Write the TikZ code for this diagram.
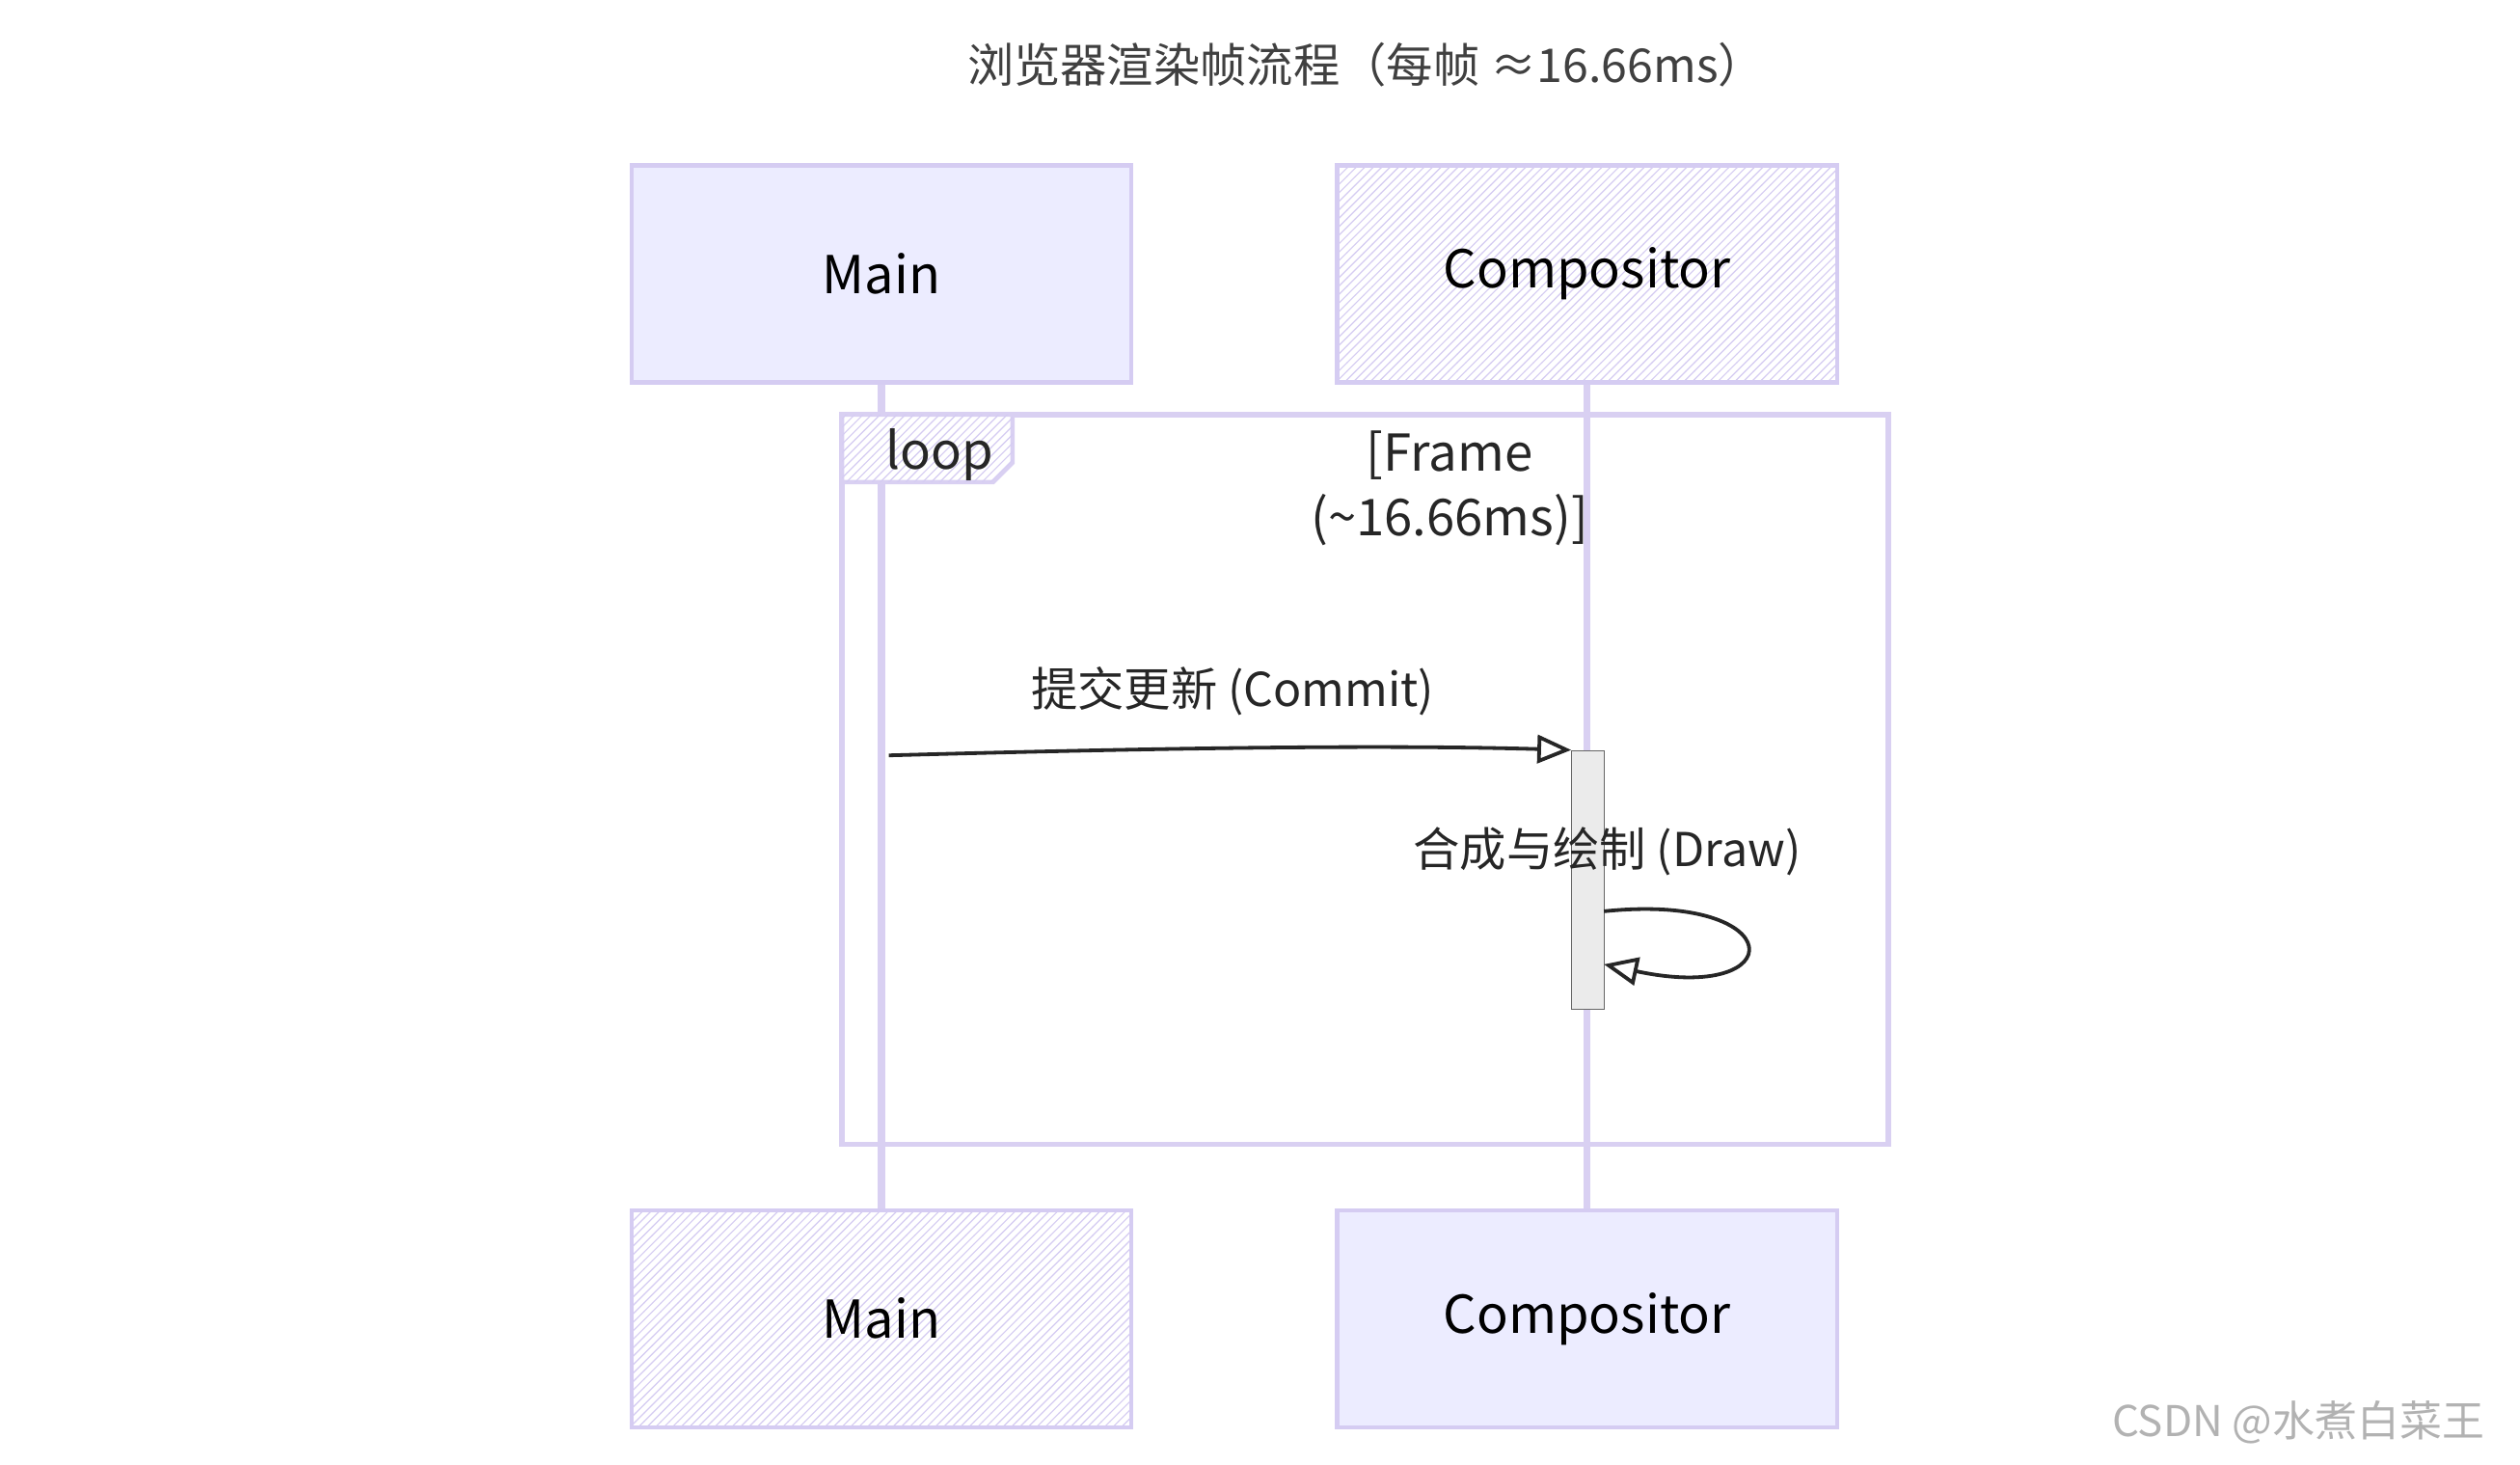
\documentclass[tikz,border=0pt]{standalone}
\usepackage{fontspec}
\setmainfont{Noto Sans CJK SC}
\usetikzlibrary{arrows.meta,patterns}
\definecolor{boxfill}{HTML}{ECECFF}
\definecolor{boxline}{HTML}{D5CCF2}
\definecolor{lifeline}{HTML}{D9D0F2}
\begin{document}
\begin{tikzpicture}[x=0.02cm,y=-0.02cm,
  actor/.style={draw=boxline,line width=1.5pt,fill=boxfill,minimum width=6.22cm,minimum height=2.7cm,font=\fontsize{18.5}{22}\selectfont},
  hatched/.style={fill=white,postaction={pattern=north east lines,pattern color=boxline}},
  life/.style={draw=lifeline,line width=2.5pt},
  lbl/.style={font=\fontsize{16.5}{20}\selectfont,text=black!85}]
\useasboundingbox (0,0) rectangle (1568,911);
\node[lbl,text=black!75] (title) at (850,40) {浏览器渲染帧流程（每帧 ≈16.66ms）};
\node[actor] (mt) at (548.5,170.5) {Main};
\node[actor,hatched] (ct) at (987.5,170.5) {Compositor};
\node[actor,hatched] (mb) at (548.5,820.5) {Main};
\node[actor] (cb) at (987.5,820.5) {Compositor};
\draw[life] (mt.south) -- (mb.north);
\draw[life] (ct.south) -- (cb.north);
\draw[draw=lifeline,line width=2pt] (524,258) rectangle (1175,712);
\draw[draw=lifeline,line width=1.5pt,fill=white,postaction={pattern=north east lines,pattern color=boxline}] (524,258) -- (630,258) -- (630,288) -- (618,300) -- (524,300) -- cycle;
\node[lbl,font=\fontsize{18}{21}\selectfont,anchor=west] (loop) at (545,283) {loop};
\node[lbl,font=\fontsize{18}{23}\selectfont,align=center] (frame) at (902,304) {[Frame\\(\textasciitilde16.66ms)]};
\node[draw=black!60,fill=black!8,minimum width=0.4cm,minimum height=3.22cm,inner sep=0] (act) at (988,547.5) {};
\coordinate (src) at (553,470);
\draw[-{Triangle[open,length=12pt,width=10pt]},line width=1.3pt,black!85] (src) .. controls (700,466) and (850,463) .. (act.north west);
\node[lbl] (commit) at (767,430) {提交更新 (Commit)};
\node[lbl] (draw) at (1000,530) {合成与绘制 (Draw)};
\coordinate (s1) at (998,567);
\coordinate (s2) at (998,600);
\draw[-{Triangle[open,length=12pt,width=10pt]},line width=1.3pt,black!85] (s1) .. controls (1115,555) and (1115,625) .. (s2);
\node[font=\fontsize{15}{17}\selectfont,text=black!30] (wm) at (1430,885) {CSDN @水煮白菜王};
\end{tikzpicture}
\end{document}
